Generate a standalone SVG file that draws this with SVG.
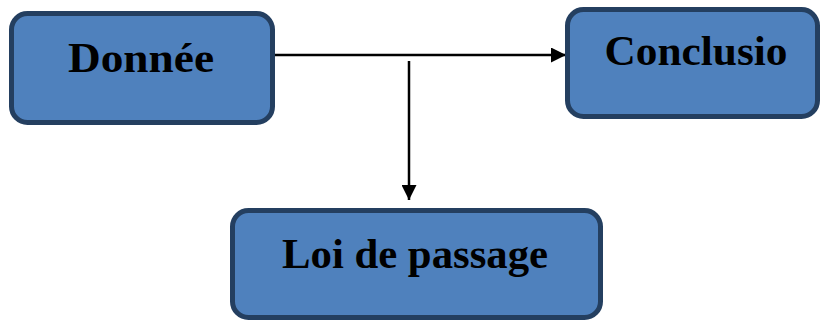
<svg xmlns="http://www.w3.org/2000/svg" width="821" height="322" viewBox="0 0 821 322">
<defs>
<style>
.box{fill:#4F81BD;stroke:#243F60;stroke-width:5}
.lbl{font-family:"Liberation Serif","Times New Roman",serif;font-weight:bold;font-size:42px;fill:#000;text-anchor:middle}
.conn{stroke:#000;stroke-width:2.5;fill:none}
</style>
<marker id="arr" viewBox="0 0 10 10" refX="10" refY="5" markerWidth="15" markerHeight="15" markerUnits="userSpaceOnUse" orient="auto">
<path d="M0,0 L10,5 L0,10 z" fill="#000"/>
</marker>
</defs>
<g id="connectors">
<line class="conn" x1="274" y1="55" x2="566" y2="55" marker-end="url(#arr)"/>
<line class="conn" x1="409" y1="61" x2="409" y2="200" marker-end="url(#arr)"/>
</g>
<g id="donnee">
<rect class="box" x="11.5" y="13.5" width="261" height="109" rx="16"/>
<text class="lbl" x="141" y="72" textLength="146" lengthAdjust="spacingAndGlyphs">Donnée</text>
</g>
<g id="conclusio">
<rect class="box" x="567.5" y="9.5" width="250" height="107" rx="16"/>
<text class="lbl" x="696" y="65" textLength="183" lengthAdjust="spacingAndGlyphs">Conclusio</text>
</g>
<g id="loi">
<rect class="box" x="232.5" y="210.5" width="368" height="107" rx="16"/>
<text class="lbl" x="415" y="268" textLength="266" lengthAdjust="spacingAndGlyphs">Loi de passage</text>
</g>
</svg>
